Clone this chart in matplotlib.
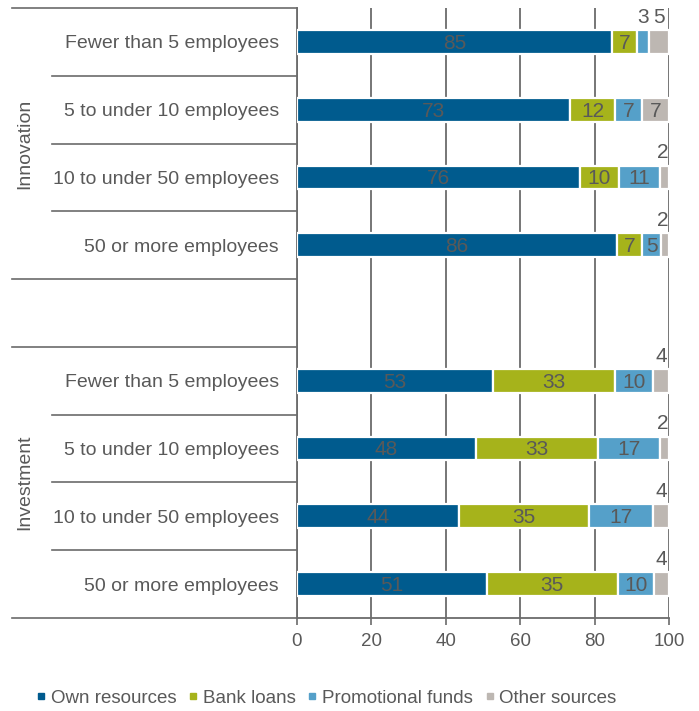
"""
Financing sources of innovation and investment projects by firm size.
Stacked horizontal bars, shares in percent.
"""
import numpy as np
import matplotlib.pyplot as plt
import matplotlib.transforms as mtransforms
from matplotlib.lines import Line2D

plt.rcParams['font.family'] = ['Liberation Sans', 'DejaVu Sans']

sizes = ['Fewer than 5 employees', '5 to under 10 employees',
         '10 to under 50 employees', '50 or more employees']
groups = ['Innovation', 'Investment']
series = ['Own resources', 'Bank loans', 'Promotional funds', 'Other sources']

# shares in percent, innovation rows first, then investment rows
own = [84.7, 73.4, 76.1, 86.0, 52.6, 48.1, 43.6, 51.0]
bank = [6.8, 12.2, 10.4, 6.8, 32.9, 32.9, 35.0, 35.2]
promo = [3.2, 7.2, 11.1, 5.0, 10.2, 16.6, 17.2, 9.9]
other = [5.3, 7.2, 2.4, 2.2, 4.3, 2.4, 4.2, 3.9]

colors = ['#005b8e', '#a6b31b', '#55a0c9', '#bdb7b2']
text_gray = '#595959'
line_gray = '#6b6b6b'

fig = plt.figure(figsize=(6.99, 7.11), dpi=100)
ax = fig.add_axes([297/699, 93/711, 372/699, 610/711])

# 9 slots: 4 innovation rows, an empty slot, 4 investment rows
ypos = np.array([0.5, 1.5, 2.5, 3.5, 5.5, 6.5, 7.5, 8.5])
bar_h = 0.35

left = np.zeros(len(ypos))
for k, (vals, col) in enumerate(zip([own, bank, promo, other], colors)):
    vals = np.array(vals)
    ax.barh(ypos, vals, left=left, height=bar_h, color=col,
            edgecolor='white', linewidth=1.6, zorder=3)
    for y, l, v in zip(ypos, left, vals):
        outside = v < 4 or (k == 3 and v < 6)
        if outside:
            ax.text(min(l + v/2, 98.3), y - bar_h/2 - 0.05, '%.0f' % v,
                    ha='center', va='bottom', fontsize=15, color=text_gray,
                    zorder=4)
        else:
            ax.text(l + v/2, y + 0.02, '%.0f' % v, ha='center', va='center',
                    fontsize=15, color=text_gray, zorder=4)
    left += vals

ax.set_xlim(0, 100)
ax.set_ylim(9, 0)
ax.set_xticks([0, 20, 40, 60, 80, 100])
ax.set_yticks(ypos)
ax.set_yticklabels(sizes + sizes)
ax.tick_params(axis='y', length=0, pad=13, labelsize=14, labelcolor=text_gray)
ax.tick_params(axis='x', length=5, width=1.2, color=line_gray, pad=6,
               labelsize=13.5, labelcolor=text_gray)
ax.xaxis.grid(True, color=line_gray, linewidth=1.3, zorder=1)
ax.set_axisbelow(True)
for s in ['top', 'right']:
    ax.spines[s].set_visible(False)
for s in ['left', 'bottom']:
    ax.spines[s].set_color(line_gray)
    ax.spines[s].set_linewidth(1.3)

# row separators on the category side
trans = mtransforms.blended_transform_factory(ax.transAxes, ax.transData)
for y in [0, 1, 2, 3, 4, 5, 6, 7, 8, 9]:
    x0 = -0.766 if y in (0, 4, 5, 9) else -0.659
    ax.plot([x0, 0], [y, y], color=line_gray, linewidth=1.2,
            transform=trans, clip_on=False, zorder=5)

for g, yc in zip(groups, [2, 7]):
    ax.text(-0.731, yc, g, rotation=90, ha='center', va='center',
            fontsize=14, color=text_gray, transform=trans)

handles = [Line2D([], [], marker='s', linestyle='none', markersize=5,
                  markerfacecolor=c, markeredgecolor=c) for c in colors]
fig.legend(handles, series, loc='center', bbox_to_anchor=(0.465, 0.018),
           ncol=4, frameon=False, fontsize=13.5, labelcolor=text_gray,
           handletextpad=0.1, columnspacing=0.5, handlelength=0.8)

plt.savefig('out.png', dpi=100)
